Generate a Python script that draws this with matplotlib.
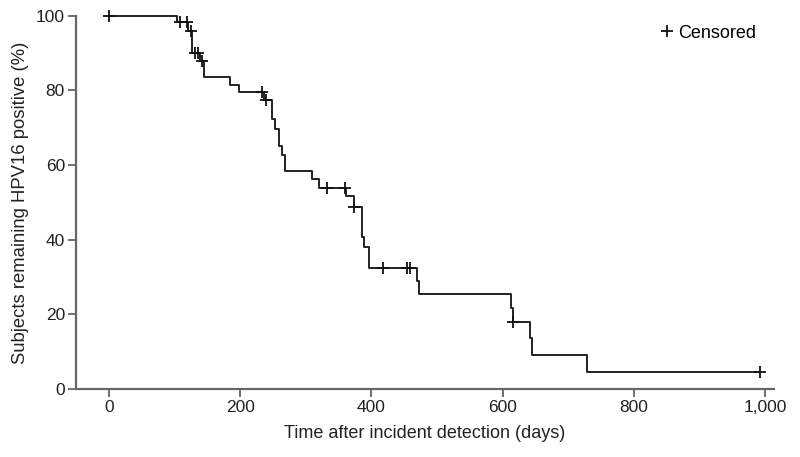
import numpy as np
import matplotlib
matplotlib.use('Agg')
import matplotlib.pyplot as plt

plt.rcParams['font.family'] = ['Liberation Sans', 'DejaVu Sans']

# event times (days) and survival (%) right after each event
event_days = [103.5, 120, 126, 138.5, 144.6, 184, 198, 236, 248, 253, 259, 263, 268,
              310, 320, 361, 374, 385, 388, 396, 469, 473, 613, 615, 642, 644, 728]
surv_pct = [98.4, 96.0, 90.1, 87.9, 83.6, 81.5, 79.6, 77.4, 72.3, 69.6, 65.0, 62.6, 58.3,
            56.2, 53.8, 51.6, 48.7, 40.6, 37.9, 32.3, 28.8, 25.3, 21.7, 18.0, 13.7, 9.1, 4.6]
# censored observations (days)
censor_days = [1, 108, 119, 125, 131, 136, 142, 233, 240, 332, 359, 374, 417, 454, 458, 615, 992]
last_day = 992

x = np.array([0] + event_days + [last_day])
y = np.array([100] + surv_pct + [surv_pct[-1]])

ev = np.array(event_days)
full = np.array([100] + surv_pct)
cens_y = full[np.searchsorted(ev, np.array(censor_days), side='right')]

fig = plt.figure(figsize=(8, 4.57), dpi=100)
ax = fig.add_axes([0.095, 0.149, 0.8725, 0.8166])

ax.step(x, y, where='post', color='#222222', lw=1.4, zorder=3, clip_on=False)
ax.plot(censor_days, cens_y, ls='none', marker='+', ms=9, mew=1.3, color='#111111',
        label='Censored', zorder=4, clip_on=False)

ax.set_xlim(-50, 1013)
ax.set_ylim(0, 100)
ax.set_xticks([0, 200, 400, 600, 800, 1000])
ax.set_xticklabels(['0', '200', '400', '600', '800', '1,000'])
ax.set_yticks([0, 20, 40, 60, 80, 100])

for s in ['top', 'right']:
    ax.spines[s].set_visible(False)
for s in ['left', 'bottom']:
    ax.spines[s].set_color('#666666')
    ax.spines[s].set_linewidth(1.6)
ax.tick_params(length=6, width=1.3, color='#666666', labelsize=12.5, labelcolor='#222222', pad=2)

ax.set_xlabel('Time after incident detection (days)', fontsize=13, color='#222222', labelpad=7)
ax.set_ylabel('Subjects remaining HPV16 positive (%)', fontsize=13.3, color='#222222', labelpad=5)

ax.legend(loc='upper right', frameon=False, fontsize=13, handlelength=0.5, handletextpad=0.4,
          bbox_to_anchor=(0.985, 0.995), borderaxespad=0)

fig.savefig('out.png', dpi=100)
